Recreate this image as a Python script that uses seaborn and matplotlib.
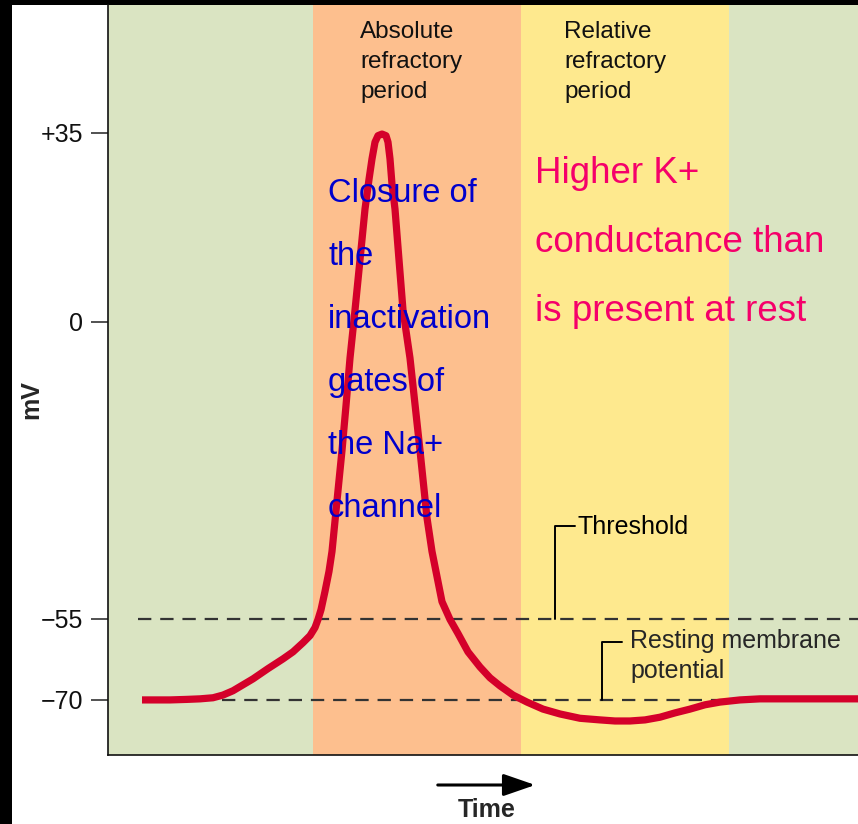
import pandas as pd
import seaborn as sns
import matplotlib.pyplot as plt
from matplotlib.patches import Rectangle, FancyArrowPatch

# action potential trace (time in arbitrary units, membrane potential in mV)
time = [0.34, 0.62, 0.79, 0.92, 1.05, 1.15, 1.25, 1.35, 1.45, 1.60, 1.75, 1.85,
        1.95, 2.02, 2.07, 2.10, 2.13, 2.17, 2.21, 2.24, 2.29, 2.34, 2.38, 2.42,
        2.47, 2.52, 2.57, 2.61, 2.64, 2.67, 2.70, 2.74, 2.78, 2.80, 2.82, 2.84,
        2.87, 2.91, 2.95, 3.02, 3.12, 3.19, 3.24, 3.34, 3.42, 3.50, 3.60, 3.72,
        3.82, 3.92, 4.05, 4.19, 4.35, 4.52, 4.72, 4.92, 5.07, 5.22, 5.37, 5.52,
        5.67, 5.82, 5.97, 6.12, 6.32, 6.52, 7.50]
mv = [-70.0, -70.0, -69.9, -69.8, -69.6, -69.1, -68.3, -67.2, -66.1, -64.2, -62.4, -61.1,
      -59.4, -58.1, -56.6, -55.1, -53.3, -49.9, -46.2, -42.5, -33.1, -23.8, -15.5, -6.7,
      2.2, 11.5, 20.9, 26.4, 30.2, 33.3, 34.5, 34.8, 34.5, 33.3, 30.2, 25.5,
      20.9, 11.5, 2.2, -6.7, -23.8, -36.3, -42.5, -51.8, -55.1, -57.7, -61.1, -63.9,
      -65.9, -67.4, -69.1, -70.4, -71.7, -72.6, -73.4, -73.7, -73.9, -73.9, -73.7, -73.2,
      -72.4, -71.7, -70.9, -70.4, -70.0, -69.8, -69.8]

# background phases
band_edges = [0.0, 2.05, 4.13, 6.21, 7.5]
band_colors = ['#DAE4C2', '#FDBF8E', '#FEE98E', '#DAE4C2']

yticks = [35, 0, -55, -70]
ytick_labels = ['+35', '0', '\u221255', '\u221270']

threshold = -55
resting = -70

blue_lines = ['Closure of', 'the', 'inactivation', 'gates of', 'the Na+', 'channel']
pink_lines = ['Higher K+', 'conductance than', 'is present at rest']
abs_lines = ['Absolute', 'refractory', 'period']
rel_lines = ['Relative', 'refractory', 'period']

df = pd.DataFrame({'time': time, 'mV': mv})

sns.set_theme(style='white')
plt.rcParams['font.family'] = ['Liberation Sans', 'DejaVu Sans']

W, H = 858, 824
fig = plt.figure(figsize=(W / 100, H / 100), dpi=100)
fig.patch.set_facecolor('black')
fig.add_artist(Rectangle((12 / W, 0), 1 - 12 / W, 1 - 5 / H, transform=fig.transFigure,
                         facecolor='white', edgecolor='none', zorder=-10))

ax = fig.add_axes([108 / W, 1 - 755 / H, 1 - 108 / W, (755 - 5) / H])
ax.set_xlim(0, 7.5)
ax.set_ylim(-80.2, 58.7)
ax.patch.set_alpha(0)

for i, c in enumerate(band_colors):
    ax.axvspan(band_edges[i], band_edges[i + 1], color=c, lw=0, zorder=0)

# dashed reference lines
ax.plot([0.30, 7.5], [threshold, threshold], color='#333333', lw=1.6,
        dashes=(6.0, 4.0), zorder=2)
ax.plot([1.14, 7.5], [resting, resting], color='#333333', lw=1.6,
        dashes=(6.0, 4.0), zorder=2)

sns.lineplot(data=df, x='time', y='mV', sort=False, color='#D4002A', lw=5.2,
             ax=ax, zorder=3, solid_joinstyle='round', solid_capstyle='butt')

# bracket annotations
ax.plot([4.47, 4.47, 4.67], [threshold, -37.8, -37.8], color='black', lw=1.4, zorder=4)
ax.text(4.69, -39.3, 'Threshold', fontsize=18, va='baseline', ha='left', color='black')
ax.plot([4.94, 4.94, 5.14], [resting, -59.3, -59.3], color='black', lw=1.4, zorder=4)
ax.text(5.22, -60.4, 'Resting membrane', fontsize=18, va='baseline', ha='left')
ax.text(5.22, -65.9, 'potential', fontsize=18, va='baseline', ha='left')

# phase labels
for k, (a, r) in enumerate(zip(abs_lines, rel_lines)):
    yb = (322 - (38 + 30 * k)) / 5.4
    ax.text(2.52, yb, a, fontsize=17.5, va='baseline', ha='left', color='#111111')
    ax.text(4.56, yb, r, fontsize=17.5, va='baseline', ha='left', color='#111111')

for k, s in enumerate(blue_lines):
    yb = (322 - (202 + 63 * k)) / 5.4
    ax.text(2.20, yb, s, fontsize=23.5, va='baseline', ha='left', color='#0000CC', zorder=5)

for k, s in enumerate(pink_lines):
    yb = (322 - (183 + 69 * k)) / 5.4
    ax.text(4.27, yb, s, fontsize=26.5, va='baseline', ha='left', color='#F5006A', zorder=5)

ax.set_xticks([])
ax.set_yticks(yticks)
ax.set_yticklabels(ytick_labels, fontsize=18, color='#111111')
ax.tick_params(axis='y', left=True, length=12, width=1.1, pad=6, color='#222222')
ax.set_xlabel('')
ax.set_ylabel('')
for side in ['top', 'right']:
    ax.spines[side].set_visible(False)
for side in ['left', 'bottom']:
    ax.spines[side].set_color('#111111')
    ax.spines[side].set_linewidth(1.2)

fig.text(31 / W, 1 - 400 / H, 'mV', rotation=90, fontsize=18, fontweight='bold',
         ha='center', va='center')
fig.text(487 / W, 1 - 810 / H, 'Time', fontsize=18, fontweight='bold',
         ha='center', va='center')
fig.add_artist(FancyArrowPatch((435 / W, 1 - 785 / H), (538 / W, 1 - 785 / H),
                               transform=fig.transFigure, arrowstyle='-|>,head_length=13,head_width=4.5',
                               color='black', lw=2.2, mutation_scale=1.5))

fig.savefig('out.png', dpi=100, facecolor=fig.get_facecolor())
